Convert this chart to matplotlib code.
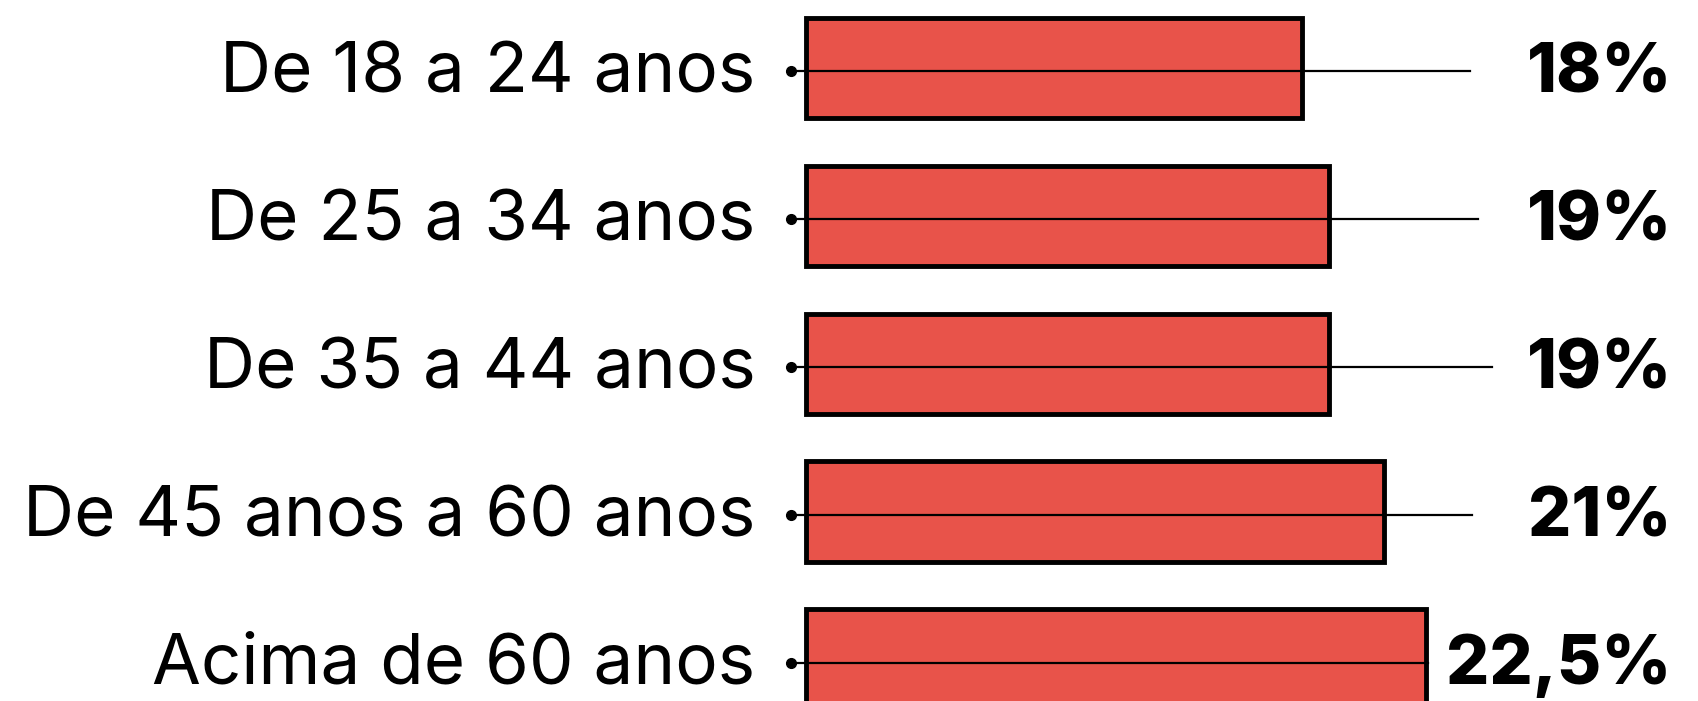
import matplotlib
matplotlib.use("Agg")
import matplotlib.pyplot as plt

# data
categories = ["De 18 a 24 anos", "De 25 a 34 anos", "De 35 a 44 anos",
              "De 45 anos a 60 anos", "Acima de 60 anos"]
values = [18, 19, 19, 21, 22.5]
value_labels = ["18%", "19%", "19%", "21%", "22,5%"]
# where the thin line through each bar stops
line_ends = [24.1, 24.4, 24.9, 24.2, 22.6]

BAR_COLOR = "#e8534a"

fig = plt.figure(figsize=(16.98, 7.01), dpi=100)
ax = fig.add_axes([0, 0, 1, 1])

ypos = list(range(len(categories)))

ax.barh(ypos, values, height=0.68, color=BAR_COLOR, edgecolor="black",
        linewidth=3.5, zorder=2)

for y, end in zip(ypos, line_ends):
    # line from the dot through the bar
    ax.plot([-0.55, end], [y + 0.02, y + 0.02], color="black", lw=1.6, zorder=3)
    ax.plot([-0.55], [y + 0.02], "o", color="black", ms=7, zorder=4)

for y, cat, lab in zip(ypos, categories, value_labels):
    ax.text(-1.85, y + 0.165, cat, ha="right", va="baseline", fontsize=51,
            family="Inter", fontweight="normal")
    ax.text(31.45, y + 0.165, lab, ha="right", va="baseline", fontsize=49,
            family="Inter", fontweight="heavy")

ax.set_xlim(-29.3, 32.4)
ax.set_ylim(4.28, -0.46)
ax.axis("off")

fig.savefig("out.png", dpi=100)
